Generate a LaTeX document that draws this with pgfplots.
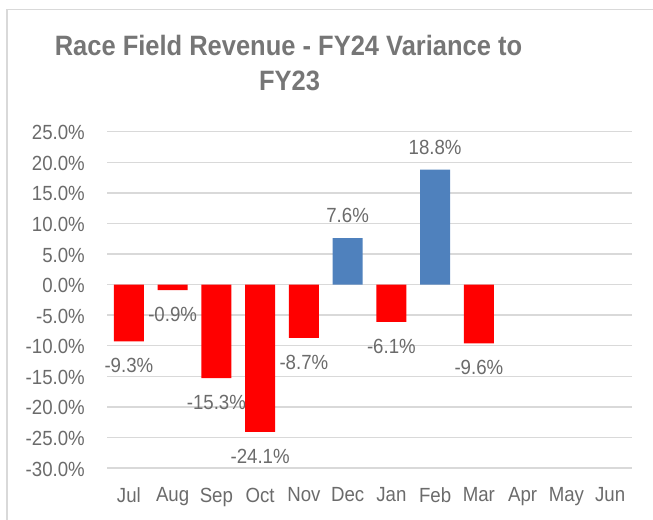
\documentclass[border=0pt]{standalone}
\usepackage{pgfplots}
\pgfplotsset{compat=1.18}
\usepackage{fontspec}
\setmainfont{Liberation Sans}
\usepackage{graphicx}
\definecolor{barred}{HTML}{FF0000}
\definecolor{barblue}{HTML}{4F81BD}
\definecolor{gridc}{HTML}{D9D9D9}
\definecolor{txt}{HTML}{6B6B6B}
\definecolor{ttl}{HTML}{767676}
\begin{document}
\begin{tikzpicture}
\path[use as bounding box] (0bp,0bp) rectangle (653bp,520bp);
\draw[gridc, line width=1.5bp] (7bp,0bp) -- (7bp,510.5bp) -- (653bp,510.5bp);
\node[anchor=base, text=ttl, font=\fontsize{28bp}{30bp}\selectfont\bfseries] at (288.5bp,464bp) {\scalebox{0.91}[1]{Race Field Revenue - FY24 Variance to}};
\node[anchor=base, text=ttl, font=\fontsize{28bp}{30bp}\selectfont\bfseries] at (289.5bp,429.3bp) {\scalebox{0.91}[1]{FY23}};
\begin{axis}[
  at={(107bp,52bp)}, anchor=south west,
  width=525bp, height=336.3bp, scale only axis,
  xmin=-0.5, xmax=11.5, ymin=-30, ymax=25,
  ytick={-30,-25,-20,-15,-10,-5,0,5,10,15,20,25},
  xtick={0,1,2,3,4,5,6,7,8,9,10,11},
  xticklabels={Jul,Aug,Sep,Oct,Nov,Dec,Jan,Feb,Mar,Apr,May,Jun},
  ymajorgrids, major grid style={gridc, line width=1.5bp},
  axis line style={draw=none},
  major tick length=0pt, tick style={draw=none},
  yticklabel={\pgfmathprintnumber[fixed,fixed zerofill,precision=1,assume math mode=true]{\tick}\%},
  yticklabel style={anchor=east, inner sep=0pt, xshift=-22bp, yshift=-1bp, xscale=0.91, text=txt, font=\fontsize{20.5bp}{23bp}\selectfont},
  xticklabel style={anchor=north, inner sep=0pt, yshift=-19.5bp, xscale=0.91, text=txt, font=\fontsize{20.5bp}{23bp}\selectfont},
  ybar, bar width=30bp, bar shift=0pt,
  clip=false,
]
\addplot[fill=barred, draw=none,
  nodes near coords={\pgfmathprintnumber[fixed,fixed zerofill,precision=1,assume math mode=true]{\pgfplotspointmeta}\%},
  every node near coord/.append style={anchor=north, inner sep=0pt, yshift=-17bp, xscale=0.91, text=txt, font=\fontsize{20.5bp}{23bp}\selectfont}]
  coordinates {(0,-9.3) (1,-0.9) (2,-15.3) (3,-24.1) (4,-8.7) (6,-6.1) (8,-9.6)};
\addplot[fill=barblue, draw=none,
  nodes near coords={\pgfmathprintnumber[fixed,fixed zerofill,precision=1,assume math mode=true]{\pgfplotspointmeta}\%},
  every node near coord/.append style={anchor=south, inner sep=0pt, yshift=15bp, xscale=0.91, text=txt, font=\fontsize{20.5bp}{23bp}\selectfont}]
  coordinates {(5,7.6) (7,18.8)};
\end{axis}
\end{tikzpicture}
\end{document}
